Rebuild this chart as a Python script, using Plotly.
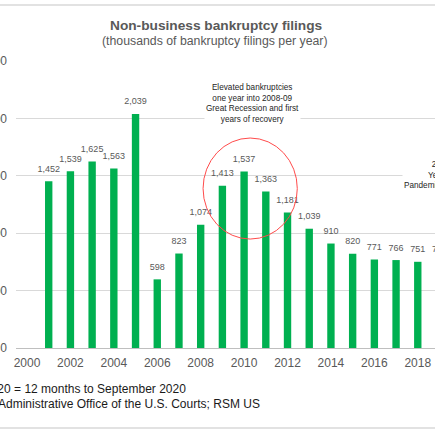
import plotly.graph_objects as go

# ---- data ----
years = list(range(2001, 2020))
filings = [1452, 1539, 1625, 1563, 2039, 598, 823, 1074, 1413, 1537,
           1363, 1181, 1039, 910, 820, 771, 766, 751, 752]
value_labels = [f"{v:,}" for v in filings]
y_ticks = [0, 500, 1000, 1500, 2000, 2500]
y_ticktext = [f"{v:,}" for v in y_ticks]
x_ticks = list(range(2000, 2021, 2))
x_ticktext = [str(v) for v in x_ticks]

title = "Non-business bankruptcy filings"
subtitle = "(thousands of bankruptcy filings per year)"
note_lines = ["Note: 2020 = 12 months to September 2020",
              "Source: Administrative Office of the U.S. Courts; RSM US"]
callout_recession = ("Elevated bankruptcies<br>one year into 2008-09<br>"
                     "Great Recession and first<br>years of recovery")
callout_2020 = "2020<br>Year of<br>Pandemic recession"

# ---- geometry (the visible window is 435 px; the chart continues to the right) ----
W, H = 480, 435
ML, MR, MT, MB = 16, 5, 61, 87
PW, PH = W - ML - MR, H - MT - MB
PX_PER_YEAR = 21.71
X0_PX = 27  # pixel position of year 2000
x_range = [2000 + (ML - X0_PX) / PX_PER_YEAR, 2000 + (W - MR - X0_PX) / PX_PER_YEAR]


def px_x(px):
    return (px - ML) / PW


def px_y(py):
    return (H - MB - py) / PH


FONT = "Arial, Liberation Sans, sans-serif"
GRAY = "#595959"
GREEN = "#00b050"

fig = go.Figure()
fig.add_trace(go.Bar(
    x=years, y=filings, width=0.34,
    marker=dict(color=GREEN, line=dict(width=0)),
    cliponaxis=False, hoverinfo="skip", showlegend=False,
))
fig.add_trace(go.Scatter(
    x=years, y=filings, mode="text+markers", text=value_labels,
    textposition="top center",
    marker=dict(size=10, opacity=0),
    textfont=dict(family=FONT, size=9, color=GRAY),
    cliponaxis=False, hoverinfo="skip", showlegend=False,
))

fig.update_layout(
    width=W, height=H,
    margin=dict(l=ML, r=MR, t=MT, b=MB, pad=0),
    paper_bgcolor="white", plot_bgcolor="white",
    font=dict(family=FONT, color=GRAY),
    bargap=0.66,
    xaxis=dict(
        range=x_range, tickmode="array",
        tickvals=x_ticks, ticktext=x_ticktext,
        tickfont=dict(family=FONT, size=12, color=GRAY),
        showgrid=False, zeroline=False,
        showline=True, linecolor="#bfbfbf", linewidth=1,
        ticks="", ticklabelstandoff=4, automargin=False, fixedrange=True,
    ),
    yaxis=dict(
        range=[0, 2500], tickmode="array",
        tickvals=y_ticks, ticktext=y_ticktext,
        tickfont=dict(family=FONT, size=12, color=GRAY),
        showgrid=True, gridcolor="#d9d9d9", gridwidth=1,
        zeroline=False, showline=False, ticks="",
        ticklabelstandoff=8, automargin=False, fixedrange=True,
    ),
)

annotations = [
    dict(text=f"<b>{title}</b>", x=px_x(216), y=px_y(25.5), xref="paper", yref="paper",
         showarrow=False, xanchor="center", yanchor="middle",
         font=dict(family=FONT, size=13.7, color=GRAY)),
    dict(text=subtitle, x=px_x(214.5), y=px_y(40.5), xref="paper", yref="paper",
         showarrow=False, xanchor="center", yanchor="middle",
         font=dict(family=FONT, size=12.3, color=GRAY)),
    dict(text=note_lines[0], x=px_x(-50), y=px_y(389), xref="paper", yref="paper",
         showarrow=False, xanchor="left", yanchor="middle",
         font=dict(family=FONT, size=12, color="#1a1a1a")),
    dict(text=note_lines[1], x=px_x(-48), y=px_y(404), xref="paper", yref="paper",
         showarrow=False, xanchor="left", yanchor="middle",
         font=dict(family=FONT, size=12, color="#1a1a1a")),
    dict(text=callout_recession, x=2010.37, y=2134, xref="x", yref="y",
         showarrow=False, xanchor="center", yanchor="middle", align="center",
         bgcolor="white",
         font=dict(family=FONT, size=8.2, color="#262626")),
    dict(text=callout_2020, x=2019.07, y=1507, xref="x", yref="y",
         showarrow=False, xanchor="center", yanchor="middle", align="center",
         bgcolor="white",
         font=dict(family=FONT, size=8.2, color="#262626")),
]
fig.update_layout(annotations=annotations)

shapes = [
    dict(type="circle", xref="x", yref="y", x0=2008.11, x1=2012.45, y0=949, y1=1829,
         line=dict(color="#ff4b4b", width=1)),
    dict(type="line", xref="paper", yref="paper", x0=-0.1, x1=1.1,
         y0=px_y(5), y1=px_y(5), line=dict(color="#d9d9d9", width=1.5)),
    dict(type="line", xref="paper", yref="paper", x0=-0.1, x1=1.1,
         y0=px_y(428), y1=px_y(428), line=dict(color="#d9d9d9", width=1.5)),
]
fig.update_layout(shapes=shapes)

fig.write_html(
    "out.html",
    config={"displayModeBar": False},
    post_script="document.body.style.margin='0';document.body.style.overflow='hidden';",
)
